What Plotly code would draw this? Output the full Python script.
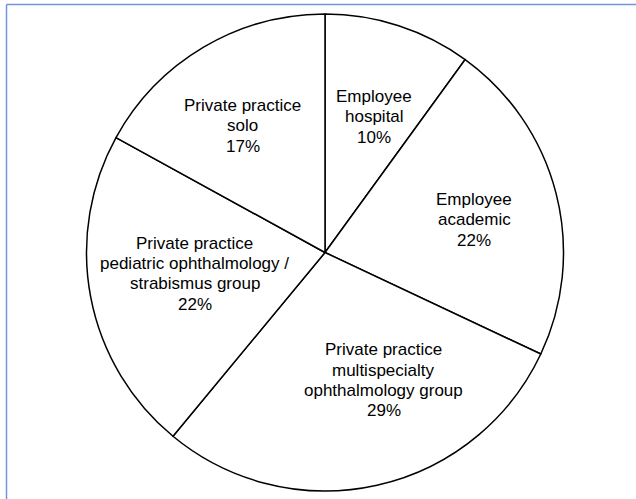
import math
import plotly.graph_objects as go

# Data
labels = [
    "Employee hospital",
    "Employee academic",
    "Private practice multispecialty ophthalmology group",
    "Private practice pediatric ophthalmology / strabismus group",
    "Private practice solo",
]
label_lines = [
    ["Employee", "hospital"],
    ["Employee", "academic"],
    ["Private practice", "multispecialty", "ophthalmology group"],
    ["Private practice", "pediatric ophthalmology /", "strabismus group"],
    ["Private practice", "solo"],
]
values = [10, 22, 29, 22, 17]

# Layout constants (pixels)
W, H = 636, 499
ML, MR, MT, MB = 86, 72, 14, 8
PW, PH = W - ML - MR, H - MT - MB
CX, CY = ML + PW / 2, MT + PH / 2
R = min(PW, PH) / 2

# label placement style: radial fraction and angular tweak (deg)
rad_frac = [0.605, 0.64, 0.59, 0.553, 0.633]
ang_tweak = [2.0, 2.0, -12.0, 1.5, -2.4]
LINE_H = 20.3

fig = go.Figure(
    go.Pie(
        labels=labels,
        values=values,
        sort=False,
        direction="clockwise",
        rotation=0,
        marker=dict(colors=["white"] * len(values), line=dict(color="black", width=1.5)),
        textinfo="none",
        hoverinfo="label+percent",
        showlegend=False,
        domain=dict(x=[0, 1], y=[0, 1]),
    )
)

total = sum(values)
cum = 0
annotations = []
for i, v in enumerate(values):
    mid = (cum + v / 2) / total * 360 + ang_tweak[i]
    cum += v
    rr = R * rad_frac[i]
    px = CX + rr * math.sin(math.radians(mid))
    py = CY - rr * math.cos(math.radians(mid))
    lines = label_lines[i] + [f"{round(v / total * 100)}%"]
    n = len(lines)
    for j, t in enumerate(lines):
        ly = py + (j - (n - 1) / 2) * LINE_H
        annotations.append(
            dict(
                x=(px - ML) / PW,
                y=(H - MB - ly) / PH,
                xref="paper",
                yref="paper",
                text=t,
                showarrow=False,
                xanchor="center",
                yanchor="middle",
                font=dict(family="Arial, Liberation Sans, sans-serif", size=17, color="black"),
            )
        )

# light blue frame (top and left edges)
fx = (6.5 - ML) / PW
fy = (H - MB - 4.5) / PH
shapes = [
    dict(type="line", xref="paper", yref="paper", x0=fx, y0=fy, x1=(W + 5 - ML) / PW, y1=fy,
         line=dict(color="#7096DA", width=1.5)),
    dict(type="line", xref="paper", yref="paper", x0=fx, y0=fy, x1=fx, y1=(-10 - MB) / PH,
         line=dict(color="#7096DA", width=1.5)),
]

fig.update_layout(
    width=W,
    height=H,
    margin=dict(l=ML, r=MR, t=MT, b=MB, pad=0),
    paper_bgcolor="white",
    plot_bgcolor="white",
    annotations=annotations,
    shapes=shapes,
)

fig.write_html(
    "out.html",
    config={"displayModeBar": False},
    post_script="document.body.style.margin='0px';document.body.style.overflow='hidden';",
)
